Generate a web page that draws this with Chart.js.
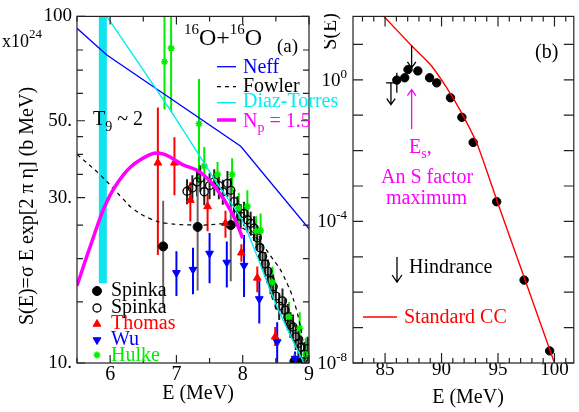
<!DOCTYPE html>
<html>
<head>
<meta charset="utf-8">
<script src="https://cdn.jsdelivr.net/npm/chart.js@4.4.1/dist/chart.umd.min.js"></script>
<style>
  html, body { margin: 0; padding: 0; background: #fff; }
  #wrap { position: relative; width: 579px; height: 412px; overflow: hidden; background: #fff; }
  #chartA { position: absolute; left: 0; top: 0; }
  #chartB { position: absolute; left: 300px; top: 0; }
</style>
</head>
<body>
<div id="wrap">
  <canvas id="chartA" width="350" height="412"></canvas>
  <canvas id="chartB" width="279" height="412"></canvas>
</div>
<script>
// ---------- panel (a) : 16O+16O S factor ----------
const neffE = [5.5, 5.95, 7.97, 9.0];
const neffS = [92.4, 77.4, 42.2, 24.4];
const fowlerE = [5.5, 5.85, 6.19, 6.34, 6.6, 6.85, 7.35, 7.85, 8.1, 8.25, 8.45, 8.6, 8.8, 8.97];
const fowlerS = [40, 34.9, 29.8, 27.9, 26.1, 25.3, 25.0, 25.1, 23.8, 22.5, 20.0, 18.1, 14.5, 10.0];
const diazE = [5.95, 6.9, 7.6, 8.0, 8.5, 8.9, 8.97];
const diazS = [100, 53.9, 33.3, 25.6, 14.8, 10.2, 9.7];
const npE = [5.5, 5.7, 5.95, 6.2, 6.45, 6.75, 7.1, 7.35, 7.6, 7.85, 8.0];
const npS = [16.7, 21.7, 29.2, 34.9, 38.5, 40.3, 37.3, 35.6, 31.9, 26.8, 22.9];
const bandE = [5.89, 5.89];          // T9 ~ 2 band
const bandS = [17, 100];

const spFillE = [6.8, 7.32, 7.82, 8.78, 8.86];
const spFillS = [21.7, 24.7, 25.0, 10.1, 10.0];
const spFillLo = [14.5, 16.2, 17.2, 9.7, 9.6];
const spFillHi = [29.4, 33.3, 32.5, 10.6, 10.5];

const spOpenE = [7.16, 7.24, 7.31, 7.36, 7.42, 7.5, 7.57, 7.64, 7.7, 7.77, 7.82, 7.87, 7.92, 7.97, 8.02, 8.07, 8.12, 8.17, 8.22, 8.26, 8.3, 8.34, 8.38, 8.42, 8.46, 8.5, 8.55, 8.6, 8.64, 8.68, 8.72, 8.76, 8.8, 8.84, 8.88, 8.93, 8.98];
const spOpenS = [31.3, 32.0, 33.3, 34.2, 31.2, 32.5, 33.3, 32.5, 31.2, 33.0, 31.5, 29.2, 28.0, 26.5, 27.0, 25.9, 25.3, 24.5, 23.0, 21.5, 20.3, 19.3, 18.4, 17.3, 16.6, 15.6, 14.6, 15.1, 14.2, 13.6, 12.9, 12.7, 11.9, 11.4, 11.1, 10.6, 11.0];
const spOpenErr = [2.6, 2.8, 3.0, 3.0, 2.7, 2.8, 2.9, 2.8, 2.6, 2.8, 2.7, 2.4, 2.3, 2.2, 2.2, 2.1, 2.0, 2.0, 1.9, 1.8, 1.7, 1.6, 1.5, 1.5, 1.4, 1.3, 1.3, 1.3, 1.2, 1.2, 1.1, 1.1, 1.0, 1.0, 0.9, 0.9, 0.9];

const thomasE = [6.72, 6.97, 7.21, 7.47, 7.74, 7.98, 8.22, 8.49];
const thomasS = [37.8, 37.8, 29.5, 28.3, 25.3, 20.8, 17.6, 11.9];
const thomasLo = [20.5, 30.5, 25.6, 24.0, 23.0, 19.6, 16.0, 11.2];
const thomasHi = [54.6, 44.8, 33.3, 30.6, 27.5, 22.0, 19.0, 12.7];

const wuE = [7.0, 7.25, 7.5, 7.76, 8.02, 8.25, 8.52, 8.79];
const wuS = [18.2, 18.6, 20.7, 19.5, 19.1, 15.3, 11.5, 10.3];
const wuLo = [15.6, 15.8, 17.0, 16.5, 15.5, 13.0, 9.8, 9.9];
const wuHi = [21.0, 21.5, 23.7, 22.4, 23.4, 17.3, 13.1, 10.8];

const hulkeE = [6.82, 6.92, 7.34, 7.42, 7.62, 7.84, 7.94, 8.07, 8.2, 8.27, 8.45, 8.7, 8.86, 8.95];
const hulkeS = [74, 81, 49, 37, 35, 35, 28, 28.3, 24, 24.1, 17.1, 13.6, 12.6, 10.6];
const hulkeLo = [54, 53, 33, 33, 32, 31, 25, 25, 21.5, 21.5, 15.3, 12.2, 11.3, 9.6];
const hulkeHi = [115, 118, 66, 42, 38, 39, 31, 31.5, 26.5, 27, 19, 15, 14, 11.8];

const aXTicks = [5.5, 6, 6.5, 7, 7.5, 8, 8.5, 9];
const aXLabels = ['', '6', '', '7', '', '8', '', '9'];
const aYTicks = [10, 15, 20, 25, 30, 35, 40, 45, 50, 60, 70, 80, 100];
const aYLabels = ['10.', '', '', '', '30.', '', '', '', '50.', '', '', '', '100'];

// ---------- panel (b) : S(E) vs E ----------
const ccE = [84.9, 87.35, 88.0, 89.1, 90.45, 91.75, 93.2, 94.94, 100.0];
const ccS = [61.7, 9.1, 5.7, 2.5, 0.6, 0.12, 0.014, 3.6e-4, 1e-8];
const dataE = [86.04, 86.74, 87.03, 87.9, 88.94, 89.57, 90.79, 91.8, 92.8, 94.88, 97.31, 99.57];
const dataS = [0.98, 1.14, 1.94, 1.78, 1.14, 0.82, 0.31, 0.087, 0.017, 3.6e-4, 2.2e-6, 2.2e-8];
const dataLo = [0.43, null, null, null, null, null, null, null, null, null, null, null];
const dataHi = [1.57, null, null, null, null, null, null, null, null, null, null, null];

const arrowE = [87.35, 85.52, 87.35];
const arrowFromS = [9.1, 0.82, 0.041];
const arrowToS = [2.17, 0.2, 0.53];
const arrowColors = ['#000', '#000', '#ff00ff'];
const limitE = [85.09, 86.0];
const limitS = 0.82;

const bXTicks = [83, 84, 85, 86, 87, 88, 89, 90, 91, 92, 93, 94, 95, 96, 97, 98, 99, 100, 101];
const bYTicks = [1e-8, 1e-7, 1e-6, 1e-5, 1e-4, 1e-3, 1e-2, 1e-1, 1, 10];
const bYLabeled = [1, 1e-4, 1e-8];
const bYExp = ['0', '-4', '-8'];

const serif = '"Liberation Serif", "DejaVu Serif", serif';
const blue = '#0000ff', cyan = '#00eeee', magenta = '#ff00ff', red = '#ff0000', green = '#00ee00';

Chart.defaults.font.family = serif;
Chart.defaults.color = '#000';

function pts(xs, ys) { return xs.map((x, i) => ({ x: x, y: ys[i] })); }

// draws a row of text pieces, each [text, size, dy]
function runs(ctx, x, y, parts, color) {
  ctx.fillStyle = color;
  ctx.textAlign = 'left';
  ctx.textBaseline = 'alphabetic';
  parts.forEach(p => {
    ctx.font = p[1] + 'px ' + serif;
    ctx.fillText(p[0], x, y + (p[2] || 0));
    x += ctx.measureText(p[0]).width;
  });
  return x;
}

function arrow(ctx, x, y0, y1, color, head, lw) {
  const dir = y1 > y0 ? 1 : -1;
  ctx.strokeStyle = color;
  ctx.lineWidth = lw;
  ctx.beginPath();
  ctx.moveTo(x, y0); ctx.lineTo(x, y1);
  ctx.moveTo(x - head * 0.7, y1 - dir * head); ctx.lineTo(x, y1); ctx.lineTo(x + head * 0.7, y1 - dir * head);
  ctx.stroke();
}

const errorBars = {
  id: 'errorBars',
  beforeDatasetsDraw(chart) {
    const { ctx, chartArea: a } = chart;
    const sx = chart.scales.x, sy = chart.scales.y;
    ctx.save();
    ctx.beginPath();
    ctx.rect(a.left, a.top, a.right - a.left, a.bottom - a.top);
    ctx.clip();
    chart.data.datasets.forEach(ds => {
      if (!ds.errLo) return;
      ctx.strokeStyle = ds.errColor;
      ctx.lineWidth = ds.errWidth || 2;
      ctx.beginPath();
      ds.data.forEach((p, j) => {
        if (ds.errLo[j] == null) return;
        const px = sx.getPixelForValue(p.x);
        ctx.moveTo(px, sy.getPixelForValue(ds.errLo[j]));
        ctx.lineTo(px, sy.getPixelForValue(ds.errHi[j]));
      });
      ctx.stroke();
    });
    ctx.restore();
  }
};

// box round the plot with inward ticks on all four sides
function makeFrame(id, xMajor, yMajor, xLen, yLen) {
  return {
    id: id,
    afterDatasetsDraw(chart) {
      const { ctx, chartArea: a } = chart;
      const sx = chart.scales.x, sy = chart.scales.y;
      ctx.save();
      ctx.strokeStyle = '#222';
      ctx.lineWidth = 1.2;
      ctx.strokeRect(a.left, a.top, a.right - a.left, a.bottom - a.top);
      ctx.beginPath();
      sx.ticks.forEach(t => {
        const px = sx.getPixelForValue(t.value);
        const len = xMajor.includes(t.value) ? xLen[0] : xLen[1];
        ctx.moveTo(px, a.bottom); ctx.lineTo(px, a.bottom - len);
        ctx.moveTo(px, a.top); ctx.lineTo(px, a.top + len);
      });
      sy.ticks.forEach(t => {
        const py = sy.getPixelForValue(t.value);
        const len = yMajor.includes(t.value) ? yLen[0] : yLen[1];
        ctx.moveTo(a.left, py); ctx.lineTo(a.left + len, py);
        ctx.moveTo(a.right, py); ctx.lineTo(a.right - len, py);
      });
      ctx.stroke();
      ctx.restore();
    }
  };
}

function marker(ctx, ds, x, y) {
  ctx.save();
  ctx.fillStyle = ds.backgroundColor || 'rgba(0,0,0,0)';
  ctx.strokeStyle = ds.borderColor;
  ctx.lineWidth = ds.borderWidth || 1;
  Chart.helpers.drawPoint(ctx, {
    pointStyle: ds.pointStyle, radius: ds.pointRadius, rotation: ds.rotation || 0, borderWidth: ds.borderWidth || 1
  }, x, y);
  ctx.restore();
}

const decorA = {
  id: 'decorA',
  afterDraw(chart) {
    const ctx = chart.ctx;
    const ds = chart.data.datasets;
    ctx.save();
    // y title
    ctx.save();
    ctx.translate(28, 206);
    ctx.rotate(-Math.PI / 2);
    ctx.font = '20px ' + serif;
    ctx.fillStyle = '#000';
    ctx.textAlign = 'center';
    ctx.textBaseline = 'middle';
    ctx.fillText('S(E)=σ E exp[2 π η] (b MeV)', 0, 0);
    ctx.restore();
    // x title
    ctx.font = '20px ' + serif;
    ctx.fillStyle = '#000';
    ctx.textAlign = 'center';
    ctx.textBaseline = 'alphabetic';
    ctx.fillText('E (MeV)', 198, 399);

    runs(ctx, 2, 47, [['x10', 18], ['24', 13, -9]], '#000');
    runs(ctx, 184, 45, [['16', 15, -11], ['O+', 24], ['16', 15, -11], ['O', 24]], '#000');
    runs(ctx, 277, 52, [['(a)', 19]], '#000');
    runs(ctx, 93, 125, [['T', 20], ['9', 14, 6], [' ~ 2', 20]], '#000');

    // legend, top right: lines
    const lineRows = [
      [2, 66.7, 73.3, [['Neff', 20]]],
      [3, 86.7, 91.7, [['Fowler', 20]]],
      [1, 102.7, 107.3, [['Diaz-Torres', 20]]],
      [0, 120, 126.7, [['N', 20], ['p', 14, 5], [' = 1.5', 20]]]
    ];
    lineRows.forEach(r => {
      const d = ds[r[0]];
      ctx.save();
      ctx.strokeStyle = d.borderColor;
      ctx.lineWidth = d.borderWidth;
      ctx.setLineDash(d.borderDash || []);
      ctx.beginPath();
      ctx.moveTo(217, r[1]); ctx.lineTo(236, r[1]);
      ctx.stroke();
      ctx.restore();
      runs(ctx, 243, r[2], r[3], d.borderColor);
    });

    // legend, bottom left: symbols
    const symRows = [
      [8, 291, 296, 'Spinka', '#000'],
      [7, 308, 312.5, 'Spinka', '#000'],
      [6, 324, 329, 'Thomas', red],
      [5, 340, 345, 'Wu', blue],
      [4, 355, 361, 'Hulke', green]
    ];
    symRows.forEach(r => {
      marker(ctx, ds[r[0]], 97, r[1]);
      runs(ctx, 111, r[2], [[r[3], 20]], r[4]);
    });
    ctx.restore();
  }
};

const chartA = new Chart(document.getElementById('chartA'), {
  type: 'scatter',
  data: {
    datasets: [
      { label: 'N_p = 1.5', data: pts(npE, npS), showLine: true, borderColor: magenta, borderWidth: 3.5, pointRadius: 0, tension: 0.4 },
      { label: 'Diaz-Torres', data: pts(diazE, diazS), showLine: true, borderColor: cyan, borderWidth: 1.4, pointRadius: 0, tension: 0.25 },
      { label: 'Neff', data: pts(neffE, neffS), showLine: true, borderColor: blue, borderWidth: 1.3, pointRadius: 0, tension: 0 },
      { label: 'Fowler', data: pts(fowlerE, fowlerS), showLine: true, borderColor: '#000', borderWidth: 1.2, borderDash: [4, 4], pointRadius: 0, tension: 0.4 },
      { label: 'Hulke', data: pts(hulkeE, hulkeS), pointStyle: 'star', pointRadius: 3.5, borderColor: green, backgroundColor: green, borderWidth: 1.6,
        errLo: hulkeLo, errHi: hulkeHi, errColor: green, errWidth: 2 },
      { label: 'Wu', data: pts(wuE, wuS), pointStyle: 'triangle', rotation: 180, pointRadius: 4.5, borderColor: blue, backgroundColor: blue, borderWidth: 1,
        errLo: wuLo, errHi: wuHi, errColor: blue, errWidth: 2 },
      { label: 'Thomas', data: pts(thomasE, thomasS), pointStyle: 'triangle', pointRadius: 4.5, borderColor: red, backgroundColor: red, borderWidth: 1,
        errLo: thomasLo, errHi: thomasHi, errColor: red, errWidth: 2 },
      { label: 'Spinka open', data: pts(spOpenE, spOpenS), pointStyle: 'circle', pointRadius: 4, borderColor: '#000', backgroundColor: 'rgba(0,0,0,0)', borderWidth: 1.3,
        errLo: spOpenS.map((s, i) => s - spOpenErr[i]), errHi: spOpenS.map((s, i) => s + spOpenErr[i]), errColor: '#222', errWidth: 2 },
      { label: 'Spinka', data: pts(spFillE, spFillS), pointStyle: 'circle', pointRadius: 4.5, borderColor: '#000', backgroundColor: '#000', borderWidth: 1,
        errLo: spFillLo, errHi: spFillHi, errColor: '#666', errWidth: 2 },
      { label: 'T9 band', data: pts(bandE, bandS), showLine: true, borderColor: '#10e4f0', borderWidth: 8, pointRadius: 0, borderCapStyle: 'butt' }
    ]
  },
  options: {
    responsive: false,
    animation: false,
    layout: { padding: { top: 13, right: 41, left: 0, bottom: 0 } },
    plugins: { legend: { display: false }, tooltip: { enabled: false } },
    scales: {
      x: {
        type: 'linear', min: 5.5, max: 9,
        grid: { display: false, drawTicks: false }, border: { display: false },
        afterBuildTicks: s => { s.ticks = aXTicks.map(v => ({ value: v })); },
        afterFit: s => { s.height = 49; },
        ticks: { autoSkip: false, maxRotation: 0, padding: 0, font: { family: serif, size: 20 }, callback: (v, i) => aXLabels[i] }
      },
      y: {
        type: 'logarithmic', min: 10, max: 100,
        grid: { display: false, drawTicks: false }, border: { display: false },
        afterBuildTicks: s => { s.ticks = aYTicks.map(v => ({ value: v })); },
        afterFit: s => { s.width = 77; },
        ticks: { autoSkip: false, padding: 5, font: { family: serif, size: 19 }, callback: (v, i) => aYLabels[i] }
      }
    }
  },
  plugins: [errorBars, makeFrame('frameA', [6, 7, 8, 9], [10, 30, 50, 100], [8, 5], [8, 6]), decorA]
});

const decorB = {
  id: 'decorB',
  afterDraw(chart) {
    const ctx = chart.ctx, a = chart.chartArea;
    const sx = chart.scales.x, sy = chart.scales.y;
    ctx.save();
    // y tick labels with exponents
    bYLabeled.forEach((v, i) => {
      const py = sy.getPixelForValue(v);
      ctx.font = '13px ' + serif;
      const we = ctx.measureText(bYExp[i]).width;
      ctx.font = '19px ' + serif;
      const wb = ctx.measureText('10').width;
      runs(ctx, a.left - 6 - we - wb, py + 6, [['10', 19], [bYExp[i], 13, -8]], '#000');
    });
    // y title, cut at the left like the reference
    ctx.save();
    ctx.beginPath();
    ctx.rect(24, 0, 40, 80);
    ctx.clip();
    ctx.translate(36, 13);
    ctx.rotate(-Math.PI / 2);
    ctx.font = '20px ' + serif;
    ctx.fillStyle = '#000';
    ctx.textAlign = 'right';
    ctx.textBaseline = 'alphabetic';
    ctx.fillText('S(E)', 0, 0);
    ctx.restore();
    // x title
    ctx.font = '20px ' + serif;
    ctx.fillStyle = '#000';
    ctx.textAlign = 'center';
    ctx.textBaseline = 'alphabetic';
    ctx.fillText('E (MeV)', 168, 403);

    runs(ctx, 235, 58, [['(b)', 20]], '#000');

    // arrows at the data
    arrowE.forEach((e, i) => {
      arrow(ctx, sx.getPixelForValue(e), sy.getPixelForValue(arrowFromS[i]), sy.getPixelForValue(arrowToS[i]), arrowColors[i], 6, 1.3);
    });
    ctx.strokeStyle = '#000';
    ctx.lineWidth = 1.3;
    ctx.beginPath();
    ctx.moveTo(sx.getPixelForValue(limitE[0]), sy.getPixelForValue(limitS));
    ctx.lineTo(sx.getPixelForValue(limitE[1]), sy.getPixelForValue(limitS));
    ctx.stroke();

    runs(ctx, 109, 153, [['E', 20], ['s', 14, 5], [',', 20]], magenta);
    runs(ctx, 81, 183, [['An S factor', 20]], magenta);
    runs(ctx, 86, 204, [['maximum', 20]], magenta);

    arrow(ctx, 97, 257, 282, '#000', 7, 1.3);
    runs(ctx, 109, 273, [['Hindrance', 20]], '#000');

    const cc = chart.data.datasets[0];
    ctx.strokeStyle = cc.borderColor;
    ctx.lineWidth = cc.borderWidth;
    ctx.beginPath();
    ctx.moveTo(63, 317); ctx.lineTo(97, 317);
    ctx.stroke();
    runs(ctx, 104, 323, [['Standard CC', 20]], red);
    ctx.restore();
  }
};

const chartB = new Chart(document.getElementById('chartB'), {
  type: 'scatter',
  data: {
    datasets: [
      { label: 'Standard CC', data: pts(ccE, ccS), showLine: true, borderColor: red, borderWidth: 1.4, pointRadius: 0, tension: 0.2 },
      { label: 'data', data: pts(dataE, dataS), pointStyle: 'circle', pointRadius: 4.2, borderColor: '#000', backgroundColor: '#000',
        errLo: dataLo, errHi: dataHi, errColor: '#000', errWidth: 1.3 }
    ]
  },
  options: {
    responsive: false,
    animation: false,
    layout: { padding: { top: 13, right: 1, left: 0, bottom: 0 } },
    plugins: { legend: { display: false }, tooltip: { enabled: false } },
    scales: {
      x: {
        type: 'linear', min: 82.16, max: 101.71,
        grid: { display: false, drawTicks: false }, border: { display: false },
        afterBuildTicks: s => { s.ticks = bXTicks.map(v => ({ value: v })); },
        afterFit: s => { s.height = 49; },
        ticks: { autoSkip: false, maxRotation: 0, padding: -4, font: { family: serif, size: 19 }, callback: v => (v % 5 === 0 ? String(v) : '') }
      },
      y: {
        type: 'logarithmic', min: 1e-8, max: 61.7,
        grid: { display: false, drawTicks: false }, border: { display: false },
        afterBuildTicks: s => { s.ticks = bYTicks.map(v => ({ value: v })); },
        afterFit: s => { s.width = 53; },
        ticks: { autoSkip: false, padding: 5, font: { family: serif, size: 19 }, callback: () => '' }
      }
    }
  },
  plugins: [errorBars, makeFrame('frameB', [85, 90, 95, 100], bYTicks, [10, 5], [10, 10]), decorB]
});
</script>
</body>
</html>
